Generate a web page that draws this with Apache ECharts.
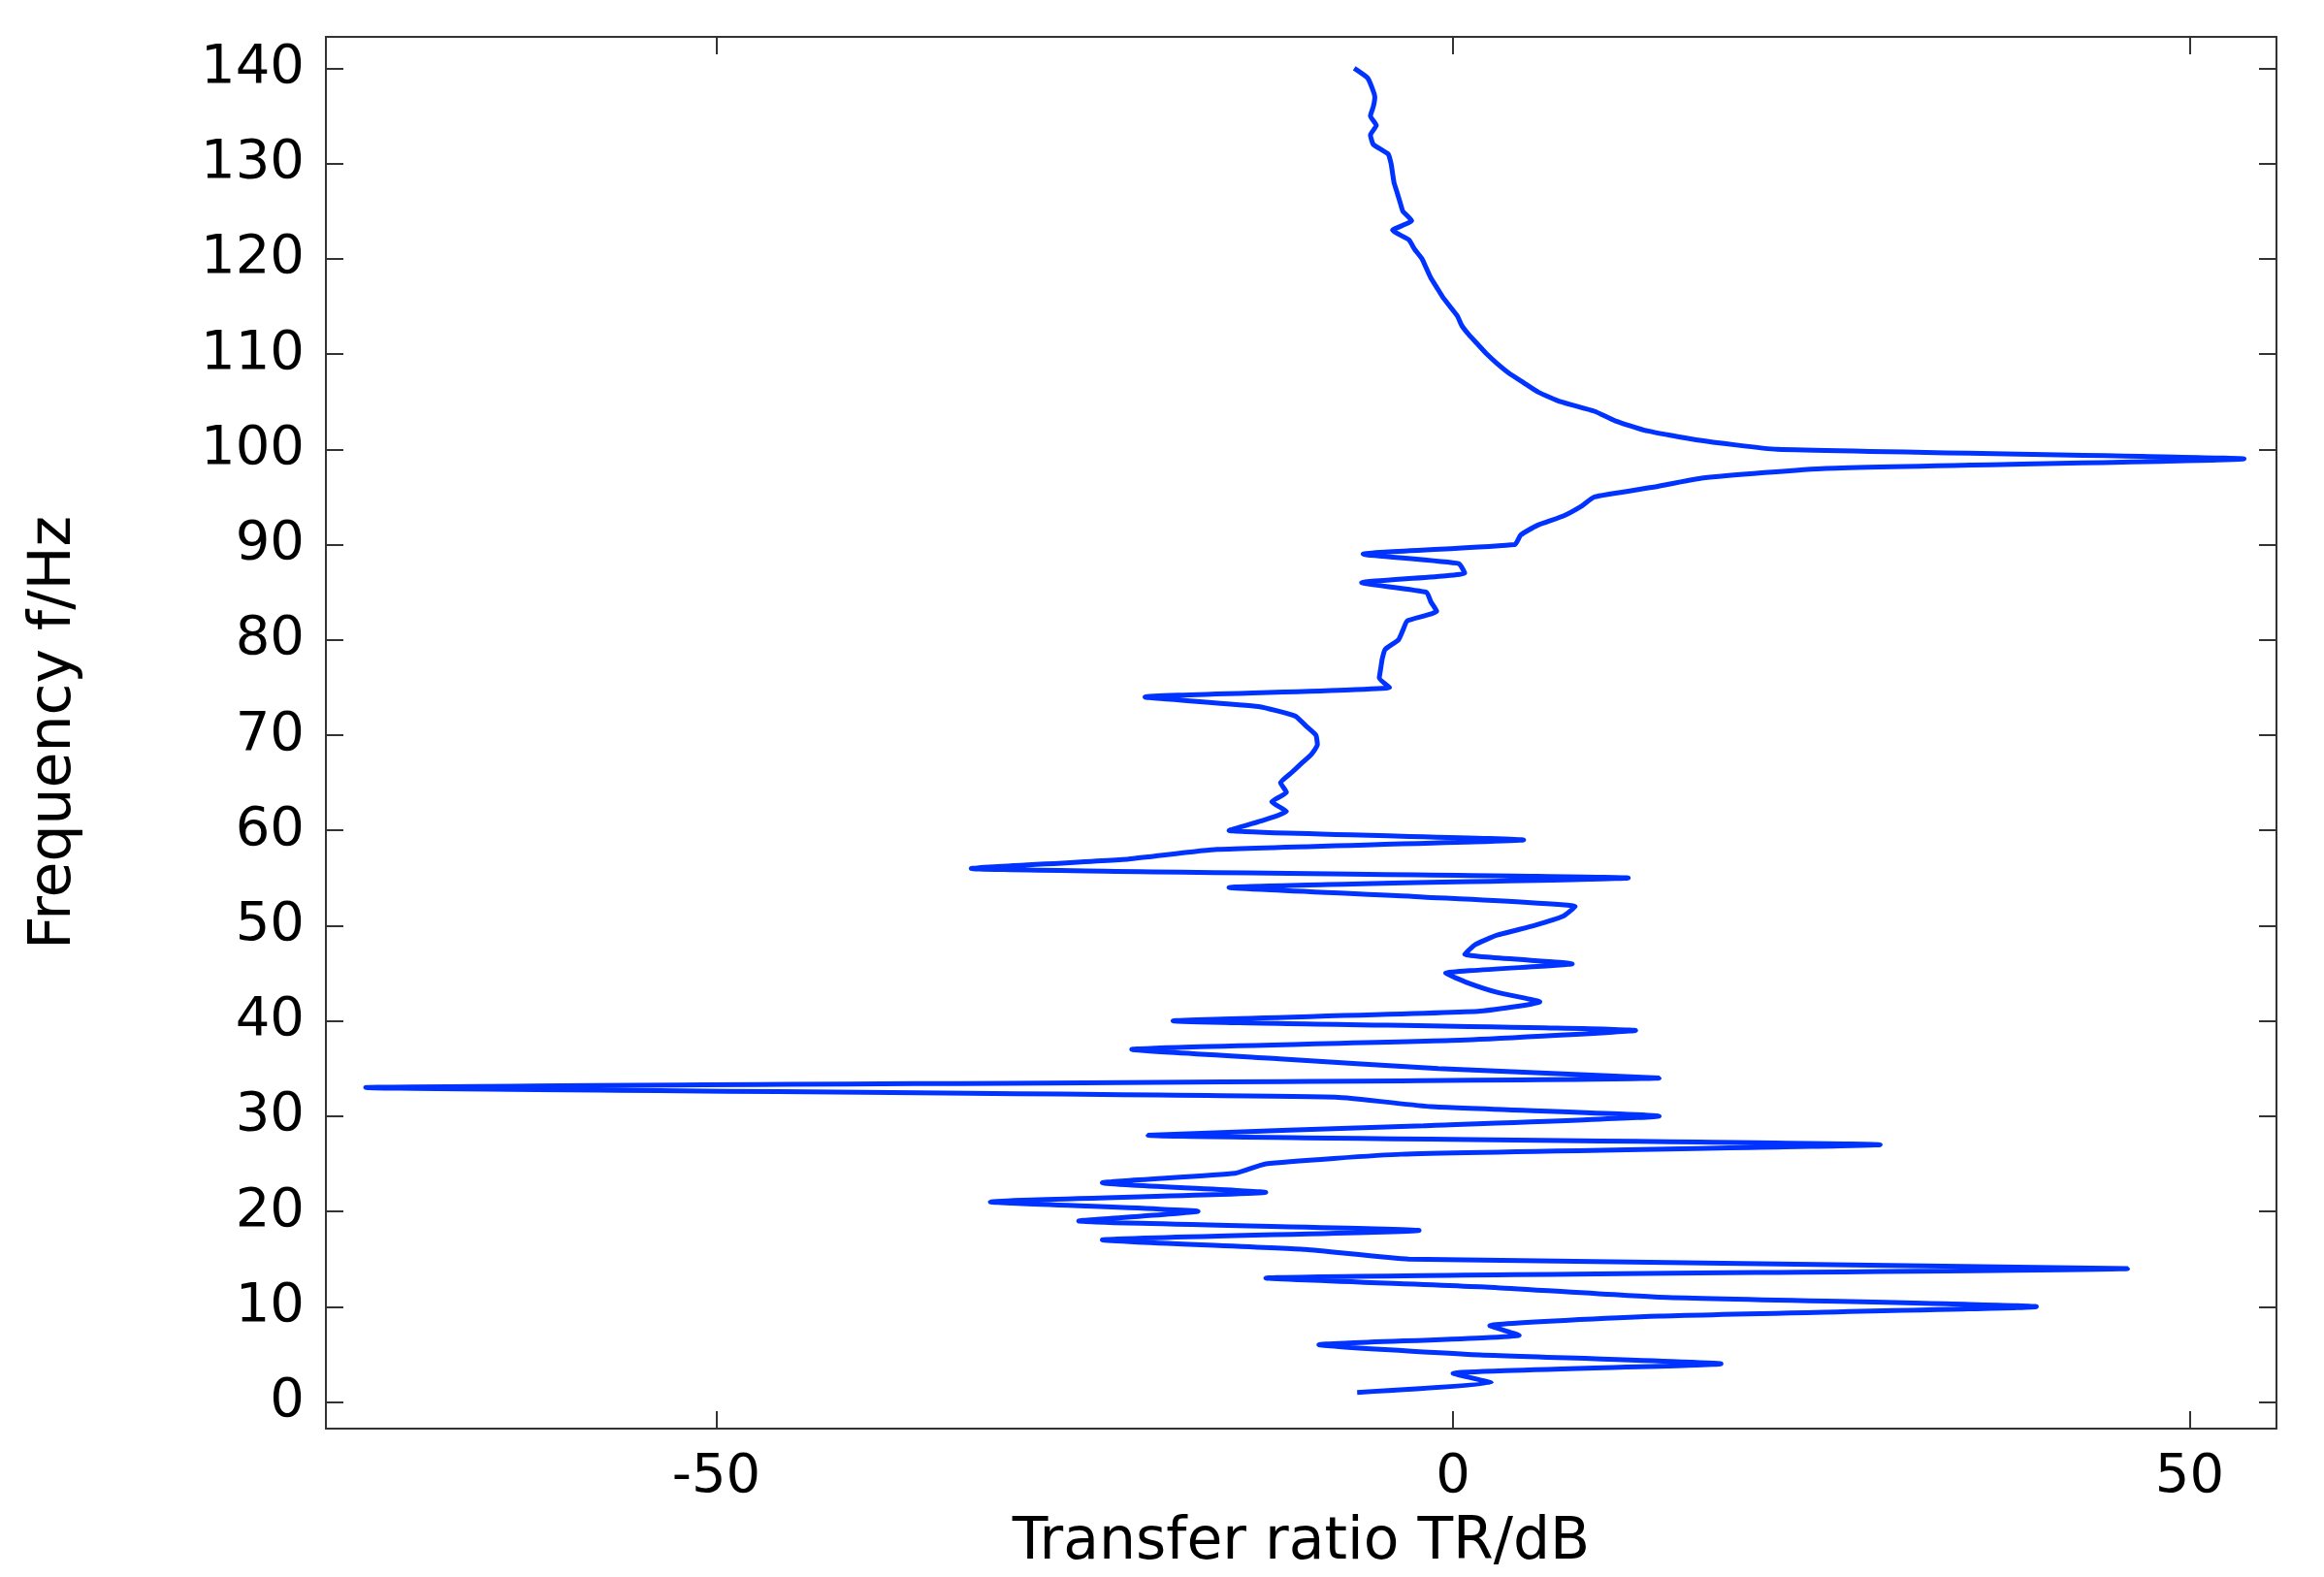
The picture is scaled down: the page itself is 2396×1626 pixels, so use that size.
<!DOCTYPE html>
<html>
<head>
<meta charset="utf-8">
<script src="https://cdn.jsdelivr.net/npm/echarts@6/dist/echarts.min.js"></script>
<style>html,body{margin:0;padding:0;background:#fff}#chart{width:2396px;height:1626px}</style>
</head>
<body>
<div id="chart"></div>
<script>
var frequency = [1,2,3,4,5,6,7,8,9,10,11,12,13,14,15,16,17,18,19,20,
  21,22,23,24,25,26,27,28,29,30,31,32,33,34,35,36,37,38,39,40,
  41,42,43,44,45,46,47,48,49,50,51,52,53,54,55,56,57,58,59,60,
  61,62,63,64,65,66,67,68,69,70,71,72,73,74,75,76,77,78,79,80,
  81,82,83,84,85,86,87,88,89,90,91,92,93,94,95,96,97,98,99,100,
  101,102,103,104,105,106,107,108,109,110,111,112,113,114,115,116,117,118,119,120,
  121,122,123,124,125,126,127,128,129,130,131,132,133,134,135,136,137,138,139,140];
var transferRatio = [-6.5,2.6,0,18.2,1,-9.1,4.5,2.5,14,39.6,14,3,-12.7,45.8,-3,-10,-23.8,-2.3,-25.4,-17.3,
  -31.4,-12.7,-23.8,-14.8,-12.7,-3.5,29,-20.7,-2,14,-1.5,-8,-73.8,14,-1,-11.5,-21.8,0.9,12.4,-19,
  1.7,5.9,3,1,-0.5,8.1,0.8,1.5,3,5.5,7.5,8.3,-2,-15.2,11.9,-32.7,-22,-16,4.8,-15.2,
  -13,-11.3,-12.3,-11.3,-11.7,-11,-10.3,-9.6,-9.2,-9.3,-10,-10.7,-13.2,-20.9,-4.3,-5,-4.9,-4.8,-4.6,-3.7,
  -3.4,-3.1,-1.1,-1.5,-1.8,-6.2,0.8,0.4,-6.1,4.2,4.6,5.7,7.5,8.7,9.6,13.5,17,25.3,53.7,22,
  16.5,13,11,9.6,7.3,5.8,4.8,3.8,3,2.3,1.7,1.1,0.6,0.3,-0.2,-0.7,-1.1,-1.5,-1.8,-2.1,
  -2.6,-3,-4.1,-2.8,-3.4,-3.6,-3.8,-4,-4.1,-4.2,-4.4,-5.4,-5.6,-5.2,-5.6,-5.4,-5.3,-5.5,-5.8,-6.7];
var xTicks = [-50, 0, 50];
var yTicks = [0,10,20,30,40,50,60,70,80,90,100,110,120,130,140];

var points = frequency.map(function (f, i) { return [transferRatio[i], f]; });

var font = "DejaVu Sans";
var lineC = "#333";
function xAx(pos, show) {
  return {
    type: "value", position: pos, min: -76.5, max: 55.9,
    axisLine: { show: true, onZero: false, lineStyle: { color: lineC, width: 2 } },
    axisTick: { show: true, inside: true, length: 18, customValues: xTicks, lineStyle: { color: lineC, width: 2 } },
    axisLabel: { show: show, customValues: xTicks, fontFamily: font, fontSize: 56, color: "#000", margin: 22 },
    splitLine: { show: false },
    name: show ? "Transfer ratio TR/dB" : "", nameLocation: "middle", nameGap: 88,
    nameTextStyle: { fontFamily: font, fontSize: 60, color: "#000" }
  };
}
function yAx(pos, show) {
  return {
    type: "value", position: pos, min: -2.8, max: 143.3,
    axisLine: { show: true, onZero: false, lineStyle: { color: lineC, width: 2 } },
    axisTick: { show: true, inside: true, length: 18, customValues: yTicks, lineStyle: { color: lineC, width: 2 } },
    axisLabel: { show: show, customValues: yTicks, fontFamily: font, fontSize: 56, color: "#000", margin: 22 },
    splitLine: { show: false },
    name: show ? "Frequency f/Hz" : "", nameLocation: "middle", nameGap: 250, nameRotate: 90,
    nameTextStyle: { fontFamily: font, fontSize: 60, color: "#000" }
  };
}

var myChart = echarts.init(document.getElementById("chart"));
myChart.setOption({
  animation: false,
  backgroundColor: "#fff",
  grid: { left: 336, right: 49, top: 38, bottom: 145 },
  xAxis: [xAx("bottom", true), xAx("top", false)],
  yAxis: [yAx("left", true), yAx("right", false)],
  series: [{
    type: "line", data: points, showSymbol: false, smooth: 0.15,
    lineStyle: { color: "#0033ff", width: 5 }
  }]
});
</script>
</body>
</html>
